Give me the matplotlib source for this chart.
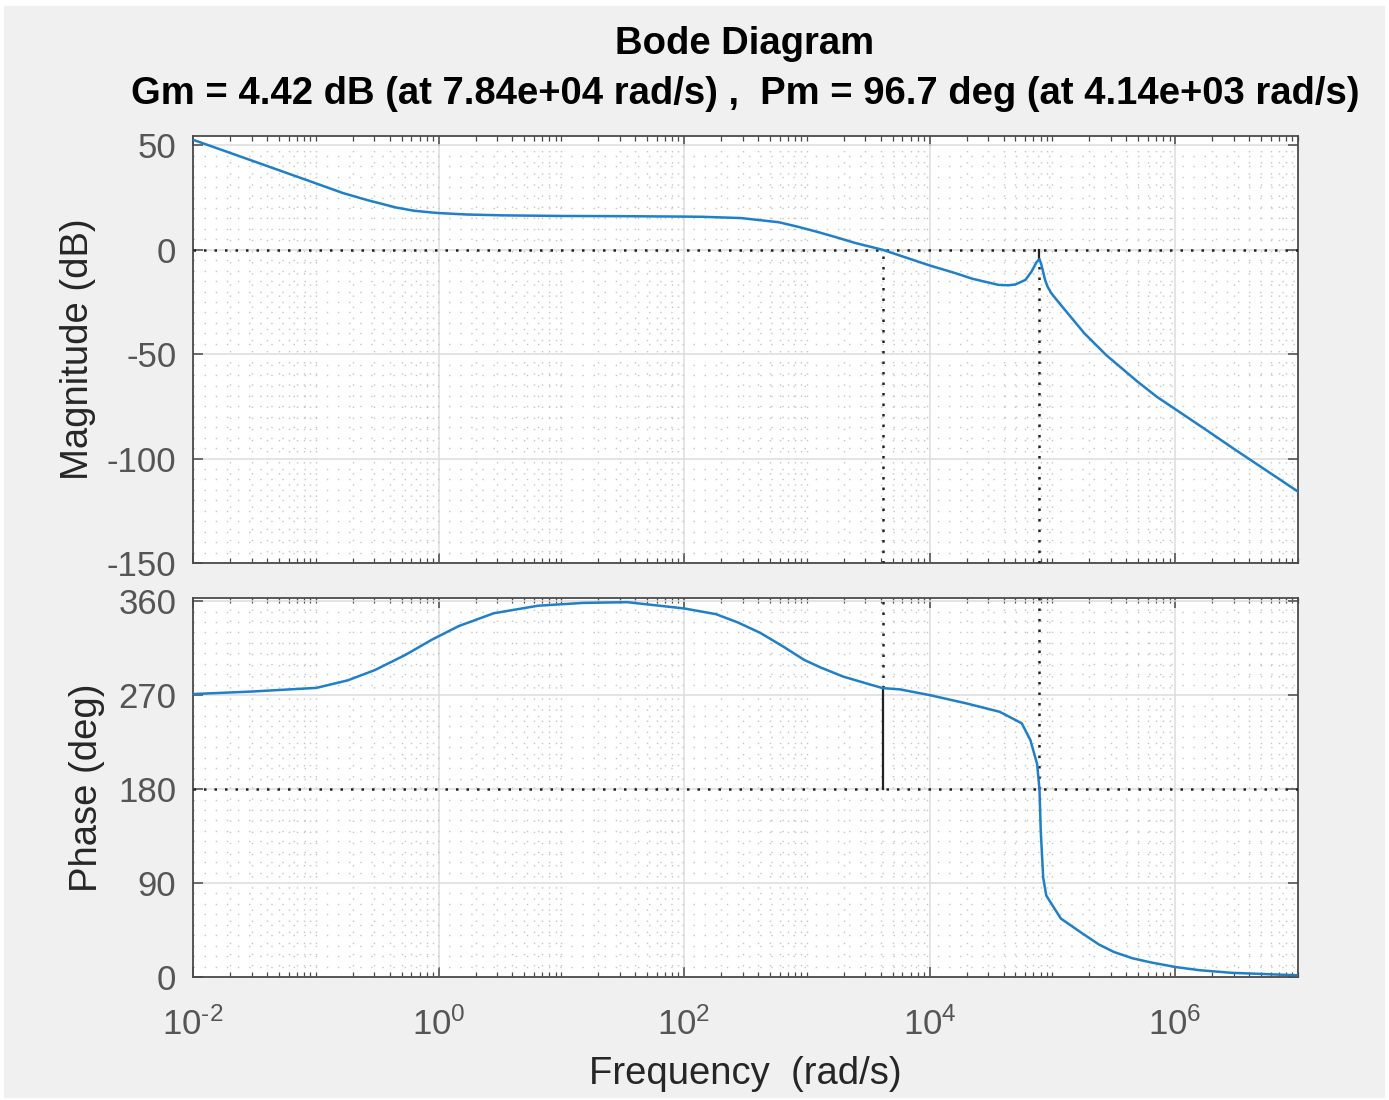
import matplotlib
matplotlib.use("Agg")
import numpy as np
from matplotlib import pyplot as plt
from matplotlib import ticker
from matplotlib.patches import Rectangle

plt.rcParams['font.family'] = ['Liberation Sans', 'DejaVu Sans']
plt.rcParams['mathtext.fontset'] = 'custom'
plt.rcParams['mathtext.rm'] = 'Liberation Sans'
plt.rcParams['mathtext.it'] = 'Liberation Sans:italic'
plt.rcParams['mathtext.bf'] = 'Liberation Sans:bold'
plt.rcParams['mathtext.default'] = 'regular'
plt.rcParams['axes.unicode_minus'] = False

# magnitude curve
mag_freq = [1.0e-2, 3.16e-2, 9.1e-2, 1.66e-1, 2.63e-1, 4.47e-1, 6.31e-1, 8.7e-1,
            1.0e0, 1.7e0, 3.3e0, 1.0e1, 3.16e1, 1.0e2, 1.41e2, 2.9e2, 5.9e2,
            8.5e2, 1.23e3, 1.78e3, 2.5e3, 4.14e3, 1.0e4, 1.58e4, 2.24e4,
            3.63e4, 4.37e4, 5.0e4, 6.03e4, 6.31e4, 6.76e4, 7.41e4, 7.84e4,
            8.13e4, 8.71e4, 9.12e4, 9.77e4, 1.1e5, 1.26e5, 1.82e5, 2.75e5,
            4.9e5, 7.08e5, 1.0e6, 1.78e6, 3.0e6, 1.0e7]
mag_db = [52.7, 42.3, 32.7, 27.2, 23.8, 20.3, 18.7, 17.9,
          17.6, 16.9, 16.5, 16.2, 16.1, 15.9, 15.8, 15.2, 13.2,
          11.0, 8.5, 5.8, 3.2, 0.0, -7.5, -11.0, -13.9,
          -16.8, -17.0, -16.6, -14.4, -12.8, -10.4, -6.0, -4.42,
          -7.2, -14.4, -17.6, -20.7, -24.5, -28.7, -40.0, -50.5,
          -63.0, -70.4, -76.3, -86.2, -95.3, -115.8]

# phase curve
ph_freq = [1.0e-2, 2.9e-2, 1.01e-1, 1.82e-1, 3.02e-1, 5.37e-1, 8.83e-1, 1.46e0,
           2.82e0, 6.46e0, 1.5e1, 3.44e1, 1.0e2, 1.82e2, 2.75e2, 4.17e2, 6.31e2,
           9.55e2, 1.29e3, 1.98e3, 3.09e3, 4.14e3, 5.71e3, 1.0e4, 2.0e4, 3.72e4,
           5.62e4, 6.61e4, 7.5e4, 7.84e4, 8.03e4, 8.41e4, 8.91e4, 1.17e5,
           1.74e5, 2.4e5, 3.16e5, 4.47e5, 6.31e5, 1.0e6, 1.58e6, 2.88e6, 1.0e7]
ph_deg = [271.0, 273.3, 276.9, 284.1, 293.9, 308.5, 323.1, 336.1,
          348.4, 355.6, 358.3, 359.0, 353.0, 347.5, 339.5, 329.6, 317.0,
          303.6, 296.5, 287.7, 281.0, 276.7, 275.5, 270.0, 262.0, 254.0,
          243.0, 227.0, 204.0, 180.0, 140.0, 95.0, 78.0, 56.0,
          42.0, 31.0, 24.0, 18.0, 14.0, 9.6, 6.5, 4.0, 1.6]

gm_freq = 7.84e4
gm_db = -4.42
pm_freq = 4.14e3
pm_deg = 276.7

mag_ticks = [50, 0, -50, -100, -150]
ph_ticks = [0, 90, 180, 270, 360]
x_ticks = [1e-2, 1e0, 1e2, 1e4, 1e6]
x_labels = ['$10^{\u20102}$', '$10^{0}$', '$10^{2}$', '$10^{4}$', '$10^{6}$']

W, H = 1389, 1100
fig = plt.figure(figsize=(W / 100, H / 100), dpi=100, facecolor='white')
fig.patches.append(Rectangle((4 / W, 1 - 1097 / H), 1380 / W, 1091 / H,
                             transform=fig.transFigure, color='#f0f0f0', zorder=-10))

ax1 = fig.add_axes([193 / W, 1 - 563 / H, 1105 / W, 427 / H])
ax2 = fig.add_axes([193 / W, 1 - 977 / H, 1105 / W, 379 / H])

line_col = '#1f7fc8'
dot = (0, (1, 3.2))

ax1.plot(mag_freq, mag_db, color=line_col, lw=1.8, zorder=5)
ax2.plot(ph_freq, ph_deg, color=line_col, lw=1.8, zorder=5)

# margin markers
ax1.axhline(0, color='#222222', ls=dot, lw=1.8, zorder=4)
ax1.plot([pm_freq, pm_freq], [-150, 0], color='#222222', ls=dot, lw=1.8, zorder=4)
ax1.plot([gm_freq, gm_freq], [-150, gm_db], color='#222222', ls=dot, lw=1.8, zorder=4)
ax1.plot([gm_freq, gm_freq], [gm_db, 0], color='#222222', lw=1.6, zorder=4)

ax2.axhline(180, color='#222222', ls=dot, lw=1.8, zorder=4)
ax2.plot([pm_freq, pm_freq], [pm_deg, 365], color='#222222', ls=dot, lw=1.8, zorder=4)
ax2.plot([pm_freq, pm_freq], [180, pm_deg], color='#222222', lw=1.6, zorder=4)
ax2.plot([gm_freq, gm_freq], [180, 365], color='#222222', ls=dot, lw=1.8, zorder=4)

ax1.set_ylim(-150, 54.5)
ax2.set_ylim(0, 363)
ax1.set_yticks(mag_ticks)
ax2.set_yticks(ph_ticks)
ax1.yaxis.set_minor_locator(ticker.MultipleLocator(5))
ax2.yaxis.set_minor_locator(ticker.MultipleLocator(10))

for ax in (ax1, ax2):
    ax.set_xscale('log')
    ax.set_xlim(1e-2, 1e7)
    ax.xaxis.set_major_locator(ticker.FixedLocator(x_ticks))
    ax.xaxis.set_minor_locator(ticker.LogLocator(base=10, subs=np.arange(1, 10), numticks=100))
    ax.xaxis.set_minor_formatter(ticker.NullFormatter())
    ax.set_facecolor('white')
    ax.grid(which='major', color='#dcdcdc', lw=1.1, ls='-')
    ax.grid(which='minor', color='#c4c4c4', lw=1.0, ls=(0, (1, 7)))
    ax.set_axisbelow(True)
    for s in ax.spines.values():
        s.set_color('#4a4a4a')
        s.set_linewidth(1.3)
    ax.tick_params(which='both', direction='in', top=True, right=True, colors='#4a4a4a')
    ax.tick_params(which='major', length=7, width=1.1, labelsize=25, labelcolor='#555555', pad=12)
    ax.tick_params(axis='x', which='minor', length=3.5, width=0.9)
    ax.tick_params(axis='y', which='minor', length=0)

ax1.xaxis.set_major_formatter(ticker.NullFormatter())
ax2.xaxis.set_major_formatter(ticker.FixedFormatter(x_labels))
ax2.tick_params(axis='x', which='major', pad=22)

ax1.set_ylabel('Magnitude (dB)', fontsize=27.5, color='#262626')
ax2.set_ylabel('Phase (deg)', fontsize=27.5, color='#262626')
ax1.yaxis.set_label_coords(-0.088, 0.5)
ax2.yaxis.set_label_coords(-0.080, 0.5)
ax2.set_xlabel('Frequency  (rad/s)', fontsize=27.5, color='#262626', labelpad=10)

fig.text(745 / W, 1 - 44 / H, 'Bode Diagram', ha='center', va='center',
         fontsize=27.5, fontweight='bold', color='black')
fig.text(745 / W, 1 - 94 / H,
         'Gm = 4.42 dB (at 7.84e+04 rad/s) ,  Pm = 96.7 deg (at 4.14e+03 rad/s)',
         ha='center', va='center', fontsize=27.5, fontweight='bold', color='black')

fig.savefig('out.png', dpi=100, facecolor=fig.get_facecolor())
